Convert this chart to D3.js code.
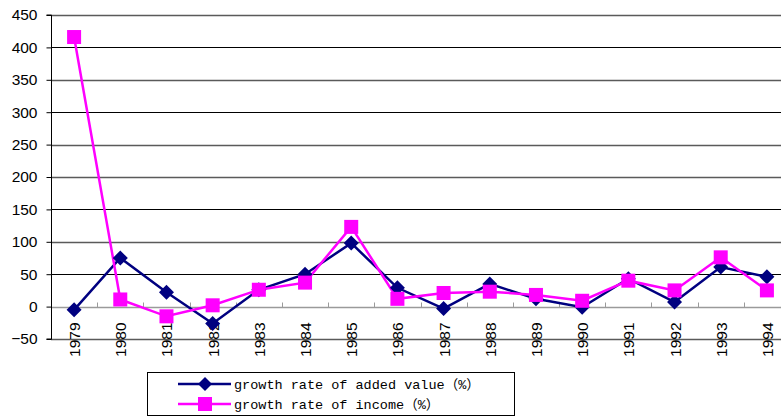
<!DOCTYPE html>
<html><head><meta charset="utf-8">
<script src="https://cdn.jsdelivr.net/npm/d3@7/dist/d3.min.js"></script>
<style>body{margin:0;background:#fff;}svg{display:block;}</style>
</head><body>
<script>
const years = ["1979","1980","1981","1982","1983","1984","1985","1986","1987","1988","1989","1990","1991","1992","1993","1994"];
const addedValue = [-5,75,22,-26,26,50,98,29,-3,35,12,-1,43,7,61,46];
const income = [416,11,-15,2,26,37,123,12,21,23,18,9,40,25,76,25];
const yTicks = [-50,0,50,100,150,200,250,300,350,400,450];
const darkGrid = [400,300,150,50];
const seriesNames = ["growth rate of added value（%）", "growth rate of income（%）"];

(function(){
const W=781,H=417;
const svg=d3.select("body").append("svg").attr("width",W).attr("height",H);
const pL=51, pR=790, pT=15, pB=339;
const x=d3.scaleBand().domain(years).range([pL,pR]).padding(0);
const y=d3.scaleLinear().domain([-50,450]).range([pB,pT]);

svg.append("g").selectAll("line").data(yTicks.filter(d=>d!==0)).join("line")
  .attr("x1",pL).attr("x2",pR).attr("y1",d=>Math.round(y(d))+0.5).attr("y2",d=>Math.round(y(d))+0.5)
  .attr("stroke",d=>darkGrid.includes(d)?"#000":"#5a5a5a").attr("stroke-width",d=>darkGrid.includes(d)?1:1.4);

const y0=Math.round(y(0))+0.5;
svg.append("line").attr("x1",pL).attr("x2",pR).attr("y1",y0).attr("y2",y0).attr("stroke","#9a9a9a").attr("stroke-width",1.5);
svg.append("g").selectAll("line").data(years.slice(1)).join("line")
  .attr("x1",d=>Math.round(x(d))+0.5).attr("x2",d=>Math.round(x(d))+0.5)
  .attr("y1",y0).attr("y2",y0-5).attr("stroke","#9a9a9a");

const yAxis=d3.axisLeft(y).tickValues(yTicks).tickSize(5).tickPadding(9);
const gy=svg.append("g").attr("transform",`translate(${pL+0.5},0)`).call(yAxis);
gy.select(".domain").attr("stroke","#000").attr("d",`M-5,${y(450)}H0V${y(-50)}H-5`);
gy.selectAll(".tick line").attr("stroke","#000");
gy.selectAll("text").attr("font-family","'Liberation Sans',Arial,sans-serif").attr("font-size",15.5).attr("fill","#000");

svg.append("g").selectAll("text").data(years).join("text")
  .attr("transform",d=>`translate(${x(d)+x.bandwidth()/2+6},${y0+15}) rotate(-90)`)
  .attr("text-anchor","end")
  .attr("font-family","'Liberation Sans',Arial,sans-serif").attr("font-size",15.5).attr("fill","#000")
  .text(d=>d);

const cx=d=>x(d)+x.bandwidth()/2;
const line=d3.line().x((d,i)=>cx(years[i])).y(d=>y(d));

const navy="#000080", mag="#FF00FF";
svg.append("path").datum(addedValue).attr("d",line).attr("fill","none").attr("stroke",navy).attr("stroke-width",2.5);
svg.append("path").datum(income).attr("d",line).attr("fill","none").attr("stroke",mag).attr("stroke-width",2.5);

const diamond=(s)=>`M0,${-s}L${s},0L0,${s}L${-s},0Z`;
svg.append("g").selectAll("path").data(addedValue).join("path")
  .attr("d",diamond(7.5)).attr("fill",navy)
  .attr("transform",(d,i)=>`translate(${cx(years[i])},${y(d)})`);
svg.append("g").selectAll("rect").data(income).join("rect")
  .attr("x",(d,i)=>cx(years[i])-7).attr("y",d=>y(d)-7).attr("width",14).attr("height",14).attr("fill",mag);

const lg=svg.append("g");
lg.append("rect").attr("x",147.5).attr("y",372.5).attr("width",367).attr("height",43).attr("fill","#fff").attr("stroke","#000");
const rows=[{c:navy,t:"d"},{c:mag,t:"s"}];
rows.forEach((r,i)=>{
  const yy=384+i*20;
  lg.append("line").attr("x1",178).attr("x2",231).attr("y1",yy).attr("y2",yy).attr("stroke",r.c).attr("stroke-width",2.5);
  if(r.t==="d") lg.append("path").attr("d",diamond(7)).attr("fill",r.c).attr("transform",`translate(205,${yy})`);
  else lg.append("rect").attr("x",198).attr("y",yy-7).attr("width",14).attr("height",14).attr("fill",r.c);
  lg.append("text").attr("x",234).attr("y",yy+5).attr("font-family","'Liberation Mono','Noto Sans CJK SC',monospace").attr("font-size",13.5).attr("fill","#000").text(seriesNames[i]);
});
})();
</script>
</body></html>
